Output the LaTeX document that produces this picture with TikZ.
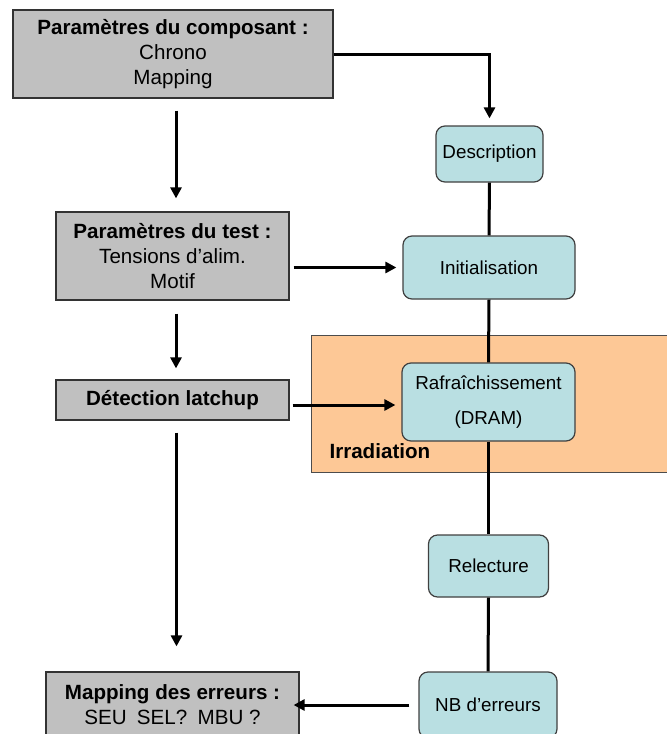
\documentclass[tikz,border=0pt]{standalone}
\usepackage{fontspec}
\setmainfont{Liberation Sans}
\usetikzlibrary{positioning,calc,arrows.meta}
\definecolor{boxgray}{HTML}{C0C0C0}
\definecolor{boxteal}{HTML}{B9DFE2}
\definecolor{irradfill}{HTML}{FDC896}

\begin{document}
\begin{tikzpicture}[x=1pt,y=-1pt,
  param/.style={draw=black!80, fill=boxgray, line width=1.2pt, align=center, inner sep=0pt, font=\fontsize{20.6}{25}\selectfont},
  stage/.style={draw=black!75, fill=boxteal, rounded corners=9pt, line width=1.2pt, align=center, inner sep=0pt, font=\fontsize{18.8}{24}\selectfont},
  flow/.style={line width=3pt, -{Triangle[length=11pt,width=11pt]}},
  link/.style={line width=3pt}]
\useasboundingbox (0,0) rectangle (667,734);
% zone d'irradiation
\draw[fill=irradfill, draw=black!70, line width=1pt] (311,335) rectangle (672,472);
\node[anchor=west, font=\fontsize{20.6}{24}\selectfont\bfseries] (irrad) at (326,451) {Irradiation};
% boites de parametres
\node[param, minimum width=320pt, minimum height=88pt] (compo) at (173,54)
  {\textbf{Paramètres du composant :}\\Chrono\\Mapping};
\node[param, minimum width=233pt, minimum height=88pt] (testp) at (172.5,256)
  {\textbf{Paramètres du test :}\\Tensions d’alim.\\Motif};
\node[param, minimum width=233pt, minimum height=40pt] (latch) at (172.5,400)
  {\textbf{Détection latchup}};
\node[param, minimum width=253pt, minimum height=66pt] (mapp) at (172.5,705)
  {\textbf{Mapping des erreurs :}\\SEU\enspace SEL?\enspace MBU ?};
% etapes du test
\node[stage, minimum width=107pt, minimum height=56pt] (desc) at (489.5,154) {Description};
\node[stage, minimum width=172pt, minimum height=63pt] (init) at (489,267.5) {Initialisation};
\node[stage, minimum width=173pt, minimum height=78pt, font=\fontsize{18.8}{35}\selectfont] (rafr) at (488.5,402)
  {Rafraîchissement\\(DRAM)};
\node[stage, minimum width=120pt, minimum height=62pt] (relec) at (488.5,566) {Relecture};
\node[stage, minimum width=138pt, minimum height=66pt] (nberr) at (488,705) {NB d’erreurs};
% liaisons
\draw[link] (desc.south) -- (init.north);
\draw[link] (init.south) -- (rafr.north);
\draw[link] (rafr.south) -- (relec.north);
\draw[link] (relec.south) -- (nberr.north);
% fleches
\draw[flow, shorten >=7pt] (compo.east) -| (desc.north);
\draw[flow, shorten <=12pt, shorten >=13pt] ($(compo.south)+(3,0)$) -- ($(testp.north)+(3.5,0)$);
\draw[flow, shorten <=4pt, shorten >=6pt] (testp.east |- init.west) -- (init.west);
\draw[flow, shorten <=13pt, shorten >=11pt] ($(testp.south)+(3.5,0)$) -- ($(latch.north)+(3.5,0)$);
\draw[flow, shorten <=3pt, shorten >=6pt] ($(latch.east)+(0,5)$) -- ($(latch.east -| rafr.west)+(0,5)$);
\draw[flow, shorten <=12pt, shorten >=25pt] ($(latch.south)+(4,0)$) -- ($(mapp.north)+(4,0)$);
\draw[flow, shorten <=9pt, shorten >=-6pt] (nberr.west) -- (nberr.west -| mapp.east);
\end{tikzpicture}
\end{document}
